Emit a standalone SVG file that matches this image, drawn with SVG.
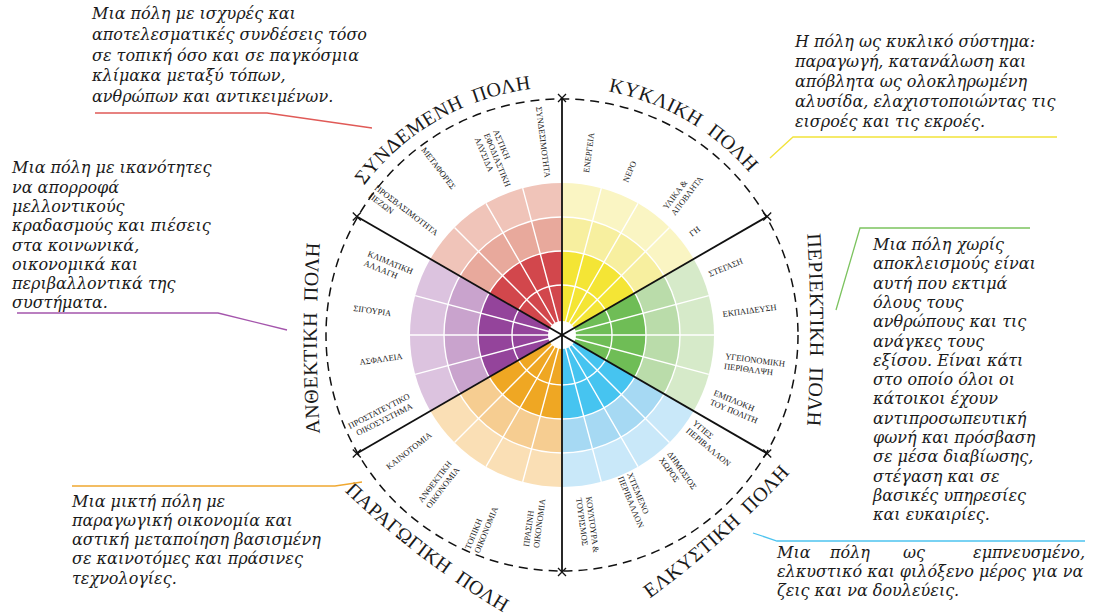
<svg xmlns="http://www.w3.org/2000/svg" width="1100" height="614" viewBox="0 0 1100 614">
<style>
.lbl{font-family:"Liberation Serif","Times New Roman",serif;font-size:8.5px;fill:#1a1a1a}
.ttl{font-family:"Liberation Serif","Times New Roman",serif;font-size:20px;fill:#1a1a1a;letter-spacing:0.5px;word-spacing:5px}
.desc{font-family:"DejaVu Serif","Liberation Serif",serif;font-style:italic;font-size:16px;fill:#1a1a1a}
.wl{stroke:#fff;stroke-width:1.4;fill:none}
.bl{stroke:#111;stroke-width:1.8;fill:none}
.ast{stroke:#111;stroke-width:1.3;fill:none}
.cn{fill:none;stroke-width:1.3}
</style>
<defs>
<path id="ast" d="M-4,-4L4,4M-4,4L4,-4"/>
<path id="p-syn" d="M317.8,291.9 A248,248 0 0 1 646.8,102"/>
<path id="p-kyk" d="M477.2,102 A248,248 0 0 1 806.2,291.9"/>
<path id="p-per" d="M794,110 A1500,1500 0 0 1 794,550"/>
<path id="p-anth" d="M333,558 A1500,1500 0 0 1 333,118"/>
<path id="p-elk" d="M620,619 A900,900 0 0 0 814,445"/>
<path id="p-par" d="M323,470 A900,900 0 0 0 530,628"/>
</defs>

<g id="wheel">
<g id="sector-syndedemeni">
<path d="M562,335 L562,183 A152,152 0 0 0 430.36,259 Z" fill="#f0c4b9"/>
<path d="M562,335 L562,217 A118,118 0 0 0 459.81,276 Z" fill="#e8a99c"/>
<path d="M562,335 L562,251 A84,84 0 0 0 489.25,293 Z" fill="#d2474c"/>
</g>
<g id="sector-kykliki">
<path d="M562,335 L693.64,259 A152,152 0 0 0 562,183 Z" fill="#faf5c3"/>
<path d="M562,335 L664.19,276 A118,118 0 0 0 562,217 Z" fill="#f7ef9f"/>
<path d="M562,335 L634.75,293 A84,84 0 0 0 562,251 Z" fill="#f4e535"/>
</g>
<g id="sector-periektiki">
<path d="M562,335 L693.64,411 A152,152 0 0 0 693.64,259 Z" fill="#d6eac9"/>
<path d="M562,335 L664.19,394 A118,118 0 0 0 664.19,276 Z" fill="#badcaa"/>
<path d="M562,335 L634.75,377 A84,84 0 0 0 634.75,293 Z" fill="#6fbd56"/>
</g>
<g id="sector-elkystiki">
<path d="M562,335 L562,487 A152,152 0 0 0 693.64,411 Z" fill="#c9e8f9"/>
<path d="M562,335 L562,453 A118,118 0 0 0 664.19,394 Z" fill="#a6d9f3"/>
<path d="M562,335 L562,419 A84,84 0 0 0 634.75,377 Z" fill="#46c4f0"/>
</g>
<g id="sector-paragogiki">
<path d="M562,335 L430.36,411 A152,152 0 0 0 562,487 Z" fill="#fadfb5"/>
<path d="M562,335 L459.81,394 A118,118 0 0 0 562,453 Z" fill="#f6cd91"/>
<path d="M562,335 L489.25,377 A84,84 0 0 0 562,419 Z" fill="#efa723"/>
</g>
<g id="sector-anthektiki">
<path d="M562,335 L430.36,259 A152,152 0 0 0 430.36,411 Z" fill="#dcc3df"/>
<path d="M562,335 L459.81,276 A118,118 0 0 0 459.81,394 Z" fill="#c9a3cd"/>
<path d="M562,335 L489.25,293 A84,84 0 0 0 489.25,377 Z" fill="#94449b"/>
</g>
<g id="grid" class="wl">
<circle cx="562" cy="335" r="50"/>
<circle cx="562" cy="335" r="84"/>
<circle cx="562" cy="335" r="118"/>
<path d="M562,335L714,335M562,335L708.82,295.66M562,335L669.48,227.52M562,335L638,203.36M562,335L601.34,188.18M562,335L522.66,188.18M562,335L486,203.36M562,335L454.52,227.52M562,335L415.18,295.66M562,335L410,335M562,335L415.18,374.34M562,335L454.52,442.48M562,335L486,466.64M562,335L522.66,481.82M562,335L601.34,481.82M562,335L638,466.64M562,335L669.48,442.48M562,335L708.82,374.34"/>
</g>
<circle cx="562" cy="335" r="14" fill="#fff"/>
<circle cx="562" cy="335" r="236" fill="none" stroke="#111" stroke-width="1.5" stroke-dasharray="9 6"/>
</g>

<g id="dividers">
<path class="bl" d="M562,98 L562,572" stroke-width="2.6"/>
<path class="bl" d="M356.8,216.5 L767.2,453.5"/>
<path class="bl" d="M767.2,216.5 L356.8,453.5"/>
<use href="#ast" class="ast" x="562" y="98"/>
<use href="#ast" class="ast" x="562" y="572"/>
<use href="#ast" class="ast" x="356.8" y="216.5"/>
<use href="#ast" class="ast" x="767.2" y="453.5"/>
<use href="#ast" class="ast" x="767.2" y="216.5"/>
<use href="#ast" class="ast" x="356.8" y="453.5"/>
</g>

<g id="titles">
<text class="ttl"><textPath href="#p-syn" startOffset="50%" text-anchor="middle">ΣΥΝΔΕΜΕΝΗ ΠΟΛΗ</textPath></text>
<text class="ttl"><textPath href="#p-kyk" startOffset="50%" text-anchor="middle">ΚΥΚΛΙΚΗ ΠΟΛΗ</textPath></text>
<text class="ttl"><textPath href="#p-per" startOffset="50%" text-anchor="middle">ΠΕΡΙΕΚΤΙΚΗ ΠΟΛΗ</textPath></text>
<text class="ttl"><textPath href="#p-anth" startOffset="50%" text-anchor="middle">ΑΝΘΕΚΤΙΚΗ ΠΟΛΗ</textPath></text>
<text class="ttl"><textPath href="#p-elk" startOffset="50%" text-anchor="middle">ΕΛΚΥΣΤΙΚΗ ΠΟΛΗ</textPath></text>
<text class="ttl"><textPath href="#p-par" startOffset="50%" text-anchor="middle">ΠΑΡΑΓΩΓΙΚΗ ΠΟΛΗ</textPath></text>
</g>

<g id="labels">
<text class="lbl" transform="translate(536,107) rotate(83)">ΣΥΝΔΕΣΙΜΟΤΗΤΑ</text>
<text class="lbl" transform="translate(493,131) rotate(67.5)"><tspan x="0" y="0">ΑΣΤΙΚΗ</tspan><tspan x="0" y="10">ΕΦΟΔΙΑΣΤΙΚΗ</tspan><tspan x="0" y="20">ΑΛΥΣΙΔΑ</tspan></text>
<text class="lbl" transform="translate(421,150) rotate(52.5)">ΜΕΤΑΦΟΡΕΣ</text>
<text class="lbl" transform="translate(374,189) rotate(37.5)"><tspan x="0" y="0">ΠΡΟΣΒΑΣΙΜΟΤΗΤΑ</tspan><tspan x="0" y="10">ΠΕΖΩΝ</tspan></text>
<text class="lbl" transform="translate(367,256) rotate(22.5)"><tspan x="0" y="0">ΚΛΙΜΑΤΙΚΗ</tspan><tspan x="0" y="10">ΑΛΛΑΓΗ</tspan></text>
<text class="lbl" transform="translate(353,311) rotate(8)">ΣΙΓΟΥΡΙΑ</text>
<text class="lbl" transform="translate(360,365) rotate(-8)">ΑΣΦΑΛΕΙΑ</text>
<text class="lbl" transform="translate(350,429) rotate(-27)"><tspan x="0" y="0">ΠΡΟΣΤΑΤΕΥΤΙΚΟ</tspan><tspan x="4" y="10">ΟΙΚΟΣΥΣΤΗΜΑ</tspan></text>
<text class="lbl" transform="translate(389,470) rotate(-38)">ΚΑΙΝΟΤΟΜΙΑ</text>
<text class="lbl" transform="translate(422,503) rotate(-52.5)"><tspan x="0" y="0">ΑΝΘΕΚΤΙΚΗ</tspan><tspan x="0" y="10">ΟΙΚΟΝΟΜΙΑ</tspan></text>
<text class="lbl" transform="translate(470,550) rotate(-67.5)"><tspan x="0" y="0">ΤΟΠΙΚΗ</tspan><tspan x="0" y="10">ΟΙΚΟΝΟΜΙΑ</tspan></text>
<text class="lbl" transform="translate(529,547) rotate(-82.5)"><tspan x="0" y="0">ΠΡΑΣΙΝΗ</tspan><tspan x="0" y="10">ΟΙΚΟΝΟΜΙΑ</tspan></text>
<text class="lbl" transform="translate(586,497) rotate(82.5)"><tspan x="0" y="0">ΚΟΥΛΤΟΥΡΑ &amp;</tspan><tspan x="0" y="10">ΤΟΥΡΙΣΜΟΣ</tspan></text>
<text class="lbl" transform="translate(627,474) rotate(67.5)"><tspan x="0" y="0">ΧΤΙΣΜΕΝΟ</tspan><tspan x="0" y="10">ΠΕΡΙΒΑΛΛΟΝ</tspan></text>
<text class="lbl" transform="translate(667,454) rotate(55)"><tspan x="0" y="0">ΔΗΜΟΣΙΟΣ</tspan><tspan x="0" y="10">ΧΩΡΟΣ</tspan></text>
<text class="lbl" transform="translate(692,424) rotate(40)"><tspan x="0" y="0">ΥΓΙΕΣ</tspan><tspan x="0" y="10">ΠΕΡΙΒΑΛΛΟΝ</tspan></text>
<text class="lbl" transform="translate(710,277) rotate(-22.5)">ΣΤΕΓΑΣΗ</text>
<text class="lbl" transform="translate(723,317) rotate(-7.5)">ΕΚΠΑΙΔΕΥΣΗ</text>
<text class="lbl" transform="translate(725,359) rotate(7.5)"><tspan x="0" y="0">ΥΓΕΙΟΝΟΜΙΚΗ</tspan><tspan x="0" y="10">ΠΕΡΙΘΑΛΨΗ</tspan></text>
<text class="lbl" transform="translate(713,395) rotate(22.5)"><tspan x="0" y="0">ΕΜΠΛΟΚΗ</tspan><tspan x="0" y="10">ΤΟΥ ΠΟΛΙΤΗ</tspan></text>
<text class="lbl" transform="translate(589,173) rotate(-82.5)">ΕΝΕΡΓΕΙΑ</text>
<text class="lbl" transform="translate(628,183) rotate(-67.5)">ΝΕΡΟ</text>
<text class="lbl" transform="translate(667,210) rotate(-52.5)"><tspan x="0" y="0">ΥΛΙΚΑ &amp;</tspan><tspan x="0" y="10">ΑΠΟΒΛΗΤΑ</tspan></text>
<text class="lbl" transform="translate(692,237) rotate(-37.5)">ΓΗ</text>
</g>

<g id="connectors">
<polyline class="cn" stroke="#e05a57" points="95,113 267,113 372,128"/>
<polyline class="cn" stroke="#a455ac" points="17,313 218,313 287,330"/>
<polyline class="cn" stroke="#f2e33a" points="1057,137 793,137 770,158"/>
<polyline class="cn" stroke="#7cc35f" points="1030,228 860,228 836,310"/>
<polyline class="cn" stroke="#f0a830" points="72,486 335,486 362,482"/>
<polyline class="cn" stroke="#4dc3ef" points="753,533 777,541 1085,541"/>
</g>

<g id="desc-syndedemeni">
<text class="desc" x="92" y="19.3">Μια πόλη με ισχυρές και</text>
<text class="desc" x="92" y="40">αποτελεσματικές συνδέσεις τόσο</text>
<text class="desc" x="92" y="60.7">σε τοπική όσο και σε παγκόσμια</text>
<text class="desc" x="92" y="81.3">κλίμακα μεταξύ τόπων,</text>
<text class="desc" x="92" y="102">ανθρώπων και αντικειμένων.</text>
</g>
<g id="desc-anthektiki">
<text class="desc" x="12" y="173.3">Μια πόλη με ικανότητες</text>
<text class="desc" x="12" y="192.6">να απορροφά</text>
<text class="desc" x="12" y="211.9">μελλοντικούς</text>
<text class="desc" x="12" y="231.2">κραδασμούς και πιέσεις</text>
<text class="desc" x="12" y="250.5">στα κοινωνικά,</text>
<text class="desc" x="12" y="269.8">οικονομικά και</text>
<text class="desc" x="12" y="289.1">περιβαλλοντικά της</text>
<text class="desc" x="12" y="308.4">συστήματα.</text>
</g>
<g id="desc-kykliki">
<text class="desc" x="795" y="46.7">Η πόλη ως κυκλικό σύστημα:</text>
<text class="desc" x="795" y="66.7">παραγωγή, κατανάλωση και</text>
<text class="desc" x="795" y="86.7">απόβλητα ως ολοκληρωμένη</text>
<text class="desc" x="795" y="106.7">αλυσίδα, ελαχιστοποιώντας τις</text>
<text class="desc" x="795" y="126.7">εισροές και τις εκροές.</text>
</g>
<g id="desc-periektiki">
<text class="desc" x="873" y="250">Μια πόλη χωρίς</text>
<text class="desc" x="873" y="269.3">αποκλεισμούς είναι</text>
<text class="desc" x="873" y="288.6">αυτή που εκτιμά</text>
<text class="desc" x="873" y="307.9">όλους τους</text>
<text class="desc" x="873" y="327.2">ανθρώπους και τις</text>
<text class="desc" x="873" y="346.5">ανάγκες τους</text>
<text class="desc" x="873" y="365.8">εξίσου. Είναι κάτι</text>
<text class="desc" x="873" y="385.1">στο οποίο όλοι οι</text>
<text class="desc" x="873" y="404.4">κάτοικοι έχουν</text>
<text class="desc" x="873" y="423.7">αντιπροσωπευτική</text>
<text class="desc" x="873" y="443">φωνή και πρόσβαση</text>
<text class="desc" x="873" y="462.3">σε μέσα διαβίωσης,</text>
<text class="desc" x="873" y="481.6">στέγαση και σε</text>
<text class="desc" x="873" y="500.9">βασικές υπηρεσίες</text>
<text class="desc" x="873" y="520.2">και ευκαιρίες.</text>
</g>
<g id="desc-paragogiki">
<text class="desc" x="72" y="506.7">Μια μικτή πόλη με</text>
<text class="desc" x="72" y="525.9">παραγωγική οικονομία και</text>
<text class="desc" x="72" y="545.1">αστική μεταποίηση βασισμένη</text>
<text class="desc" x="72" y="564.3">σε καινοτόμες και πράσινες</text>
<text class="desc" x="72" y="583.5">τεχνολογίες.</text>
</g>
<g id="desc-elkystiki">
<text class="desc" x="777" y="558">Μια</text>
<text class="desc" x="830" y="558">πόλη</text>
<text class="desc" x="903" y="558">ως</text>
<text class="desc" x="1085" y="558" text-anchor="end">εμπνευσμένο,</text>
<text class="desc" x="777" y="577">ελκυστικό και φιλόξενο μέρος για να</text>
<text class="desc" x="777" y="596">ζεις και να δουλεύεις.</text>
</g>
</svg>
